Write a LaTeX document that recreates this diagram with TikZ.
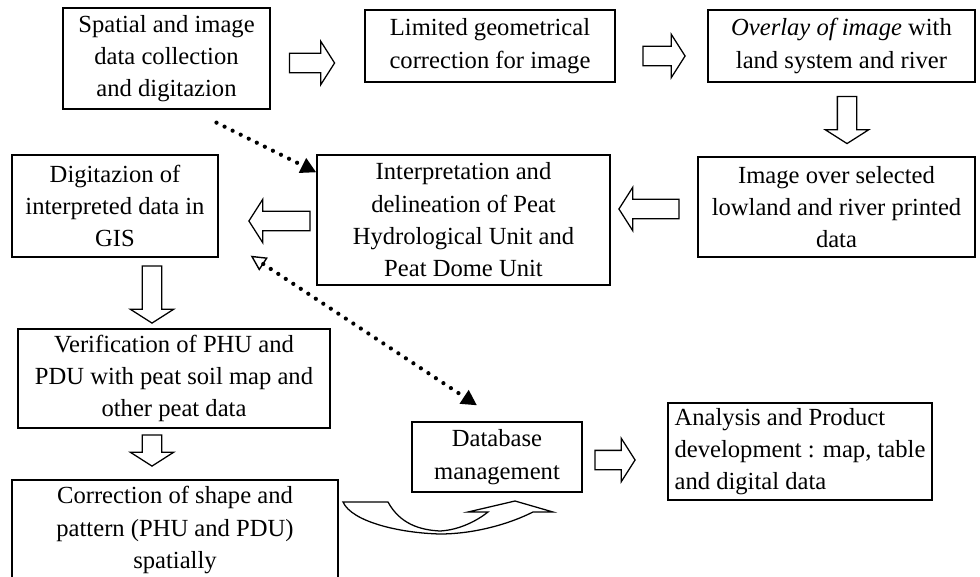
\documentclass[tikz,border=0pt]{standalone}
\usepackage{fontspec}
\setmainfont{Liberation Serif}
\usetikzlibrary{shapes.arrows,arrows.meta}

\begin{document}
\begin{tikzpicture}[x=0.025cm, y=-0.025cm]
% Styles
\tikzset{
    stage/.style={draw, rectangle, line width=0.9pt, align=center, inner sep=0pt,
        font=\fontsize{17.5}{23}\selectfont},
    blockarrow/.style={draw, single arrow, line width=0.9pt, inner xsep=0pt,
        inner ysep=0.225cm, single arrow head extend=0.3cm,
        single arrow tip angle=115, single arrow head indent=0pt},
    downarrow/.style={blockarrow, inner xsep=0.225cm, inner ysep=0pt,
        shape border rotate=270},
    dotlink/.style={line width=3pt, dash pattern=on 0pt off 6.4pt, line cap=round}
}
\useasboundingbox (0,0) rectangle (980,577);

% Nodes
\node[stage, minimum width=5.175cm, minimum height=2.525cm] (COL) at (166.5, 58.5)
    {Spatial and image\\data collection\\and digitazion};
\node[stage, minimum width=6.25cm, minimum height=1.8cm] (GEO) at (490, 46)
    {Limited geometrical\\correction for image};
\node[stage, minimum width=6.675cm, minimum height=1.8cm] (OVL) at (841.5, 46)
    {\textit{Overlay of image} with\\land system and river};
\node[stage, minimum width=6.925cm, minimum height=2.5cm] (IMG) at (836.5, 207)
    {Image over selected\\lowland and river printed\\data};
\node[stage, minimum width=7.325cm, minimum height=3.25cm] (INT) at (463.5, 220)
    {Interpretation and\\delineation of Peat\\Hydrological Unit and\\Peat Dome Unit};
\node[stage, minimum width=5.15cm, minimum height=2.55cm] (DIG) at (115, 206)
    {Digitazion of\\interpreted data in\\GIS};
\node[stage, minimum width=7.8cm, minimum height=2.475cm] (VER) at (174, 378.5)
    {Verification of PHU and\\PDU with peat soil map and\\other peat data};
\node[stage, minimum width=8.15cm, minimum height=2.5cm] (COR) at (175, 530)
    {Correction of shape and\\pattern (PHU and PDU)\\spatially};
\node[stage, minimum width=4.25cm, minimum height=1.75cm] (DB) at (497, 457)
    {Database\\management};
\node[stage, align=left, minimum width=6.6cm, minimum height=2.425cm] (ANA) at (800, 451.5)
    {Analysis and Product\\development : map, table\\and digital data};

% Block arrows
\node[blockarrow, minimum height=1.125cm] (AW1) at (309, 63) {};
\node[blockarrow, minimum height=1.05cm] (AW2) at (661, 56) {};
\node[downarrow, minimum height=1.175cm] (AW3) at (847, 117) {};
\node[blockarrow, minimum height=1.5cm, shape border rotate=180] (AW4) at (652, 209) {};
\node[blockarrow, minimum height=1.525cm, shape border rotate=180] (AW5) at (282.5, 221) {};
\node[downarrow, minimum height=1.425cm] (AW6) at (152, 291.5) {};
\node[downarrow, minimum height=0.775cm] (AW7) at (152, 447.5) {};
\node[blockarrow, minimum height=1.0cm] (AW8) at (612, 460) {};

% Curved arrow
\draw[line width=0.9pt] (343,502) -- (388,502)
    .. controls (400,524) and (420,530) .. (440,531)
    .. controls (460,530) and (478,520) .. (488,512)
    -- (468,512) -- (515,501) -- (553,512) -- (533,512)
    .. controls (505,526) and (470,534) .. (440,534)
    .. controls (400,533) and (352,522) .. (343,502) -- cycle;

% Connections
\draw[dotlink, -{Triangle[length=11pt, width=11pt]}]
    ([shift={(50,13)}]COL.south) -- ([shift={(0,18)}]INT.north west);
\draw[dotlink, {Triangle[open, line width=1pt, length=11pt, width=11pt]}-{Triangle[length=11pt, width=11pt]}]
    ([shift={(32,-2)}]DIG.south east) -- ([shift={(-20,-16)}]DB.north);
\end{tikzpicture}
\end{document}
